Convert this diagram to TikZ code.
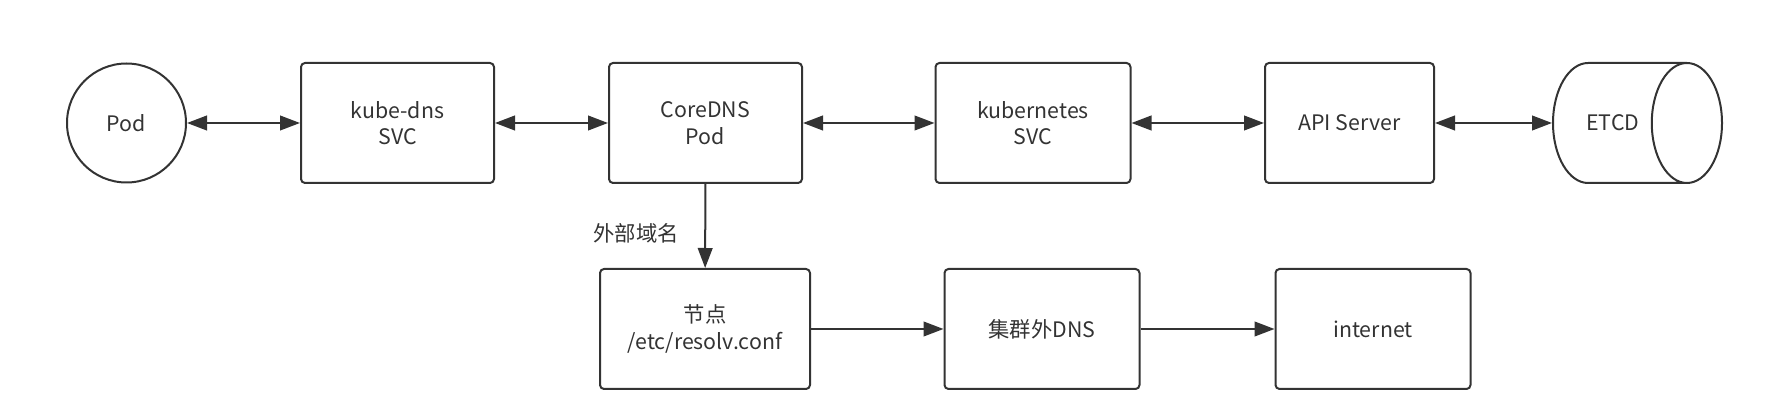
\documentclass[tikz,border=0pt]{standalone}
\usepackage{fontspec}
\setmainfont{Noto Sans CJK SC}
\usepackage{tikz}
\usetikzlibrary{
    arrows.meta,
    shapes.geometric,
    positioning
}
\definecolor{ink}{HTML}{333333}
\tikzset{podc/.style={circle, draw=ink, line width=1.5pt, minimum size=89.25pt, inner sep=0pt, text=ink, font=\fontsize{16pt}{20pt}\selectfont}}
\tikzset{svcb/.style={rectangle, rounded corners=3pt, draw=ink, line width=1.5pt, minimum width=144.75pt, minimum height=90pt, align=center, text=ink, font=\fontsize{16pt}{20pt}\selectfont}}
\tikzset{dbc/.style={cylinder, shape aspect=2.8, draw=ink, line width=1.5pt, minimum width=90pt, minimum height=126.75pt, text=ink, font=\fontsize{16pt}{20pt}\selectfont}}
\tikzset{lnk/.style={draw=ink, line width=1.5pt, -{Triangle[length=15pt, width=11pt]}}}
\tikzset{blnk/.style={draw=ink, line width=1.5pt, {Triangle[length=15pt, width=11pt]}-{Triangle[length=15pt, width=11pt]}}}

\begin{document}
\begin{tikzpicture}[x=0.75pt, y=-0.75pt]
    \useasboundingbox (0, 0) rectangle (1781, 409);

    \node[podc] (pod) at (126.5, 123) {Pod};
    \node[svcb] (kubedns) at (397.5, 123) {kube-dns\\SVC};
    \node[svcb] (coredns) at (705.5, 123) {CoreDNS\\Pod};
    \node[svcb, minimum width=146.25pt] (k8ssvc) at (1033, 123) {kubernetes\\SVC};
    \node[svcb, minimum width=126.75pt] (apisrv) at (1349.5, 123) {API Server};
    \node[dbc, anchor=west] (etcd) at (1552, 123) {ETCD};

    \node[svcb, minimum width=157.5pt] (hostconf) at (705, 329) {节点\\/etc/resolv.conf};
    \node[svcb, minimum width=146.25pt] (extdns) at (1042, 329) {集群外DNS};
    \node[svcb, minimum width=146.25pt] (inet) at (1373, 329) {internet};

    \node[text=ink, font=\fontsize{16pt}{20pt}\selectfont] (extname) at (636, 233) {外部域名};

    \draw
    (pod) edge[blnk] (kubedns)
    (kubedns) edge[blnk] (coredns)
    (coredns) edge[blnk] (k8ssvc)
    (k8ssvc) edge[blnk] (apisrv)
    (apisrv) edge[blnk] (etcd)
    (coredns) edge[lnk] (hostconf)
    (hostconf) edge[lnk] (extdns)
    (extdns) edge[lnk] (inet);
\end{tikzpicture}
\end{document}
